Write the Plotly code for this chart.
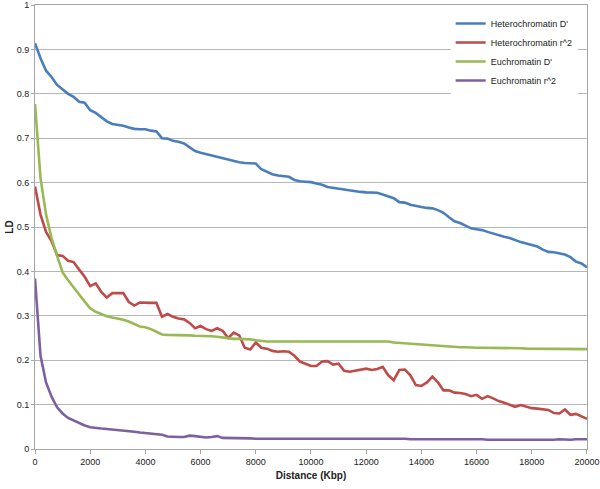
import plotly.graph_objects as go

distance = list(range(0, 20001, 200))

het_d = [0.914, 0.880, 0.852, 0.838, 0.820, 0.810, 0.800, 0.793, 0.782, 0.780,
         0.763, 0.757, 0.748, 0.738, 0.732, 0.730, 0.728, 0.724, 0.721, 0.720,
         0.720, 0.717, 0.715, 0.700, 0.699, 0.694, 0.692, 0.688, 0.680, 0.671,
         0.667, 0.664, 0.661, 0.658, 0.654, 0.651, 0.649, 0.646, 0.644, 0.643,
         0.643, 0.630, 0.624, 0.619, 0.616, 0.614, 0.613, 0.606, 0.603, 0.602,
         0.601, 0.598, 0.595, 0.590, 0.588, 0.587, 0.584, 0.582, 0.580, 0.579,
         0.578, 0.578, 0.577, 0.573, 0.569, 0.565, 0.556, 0.555, 0.550, 0.547,
         0.545, 0.543, 0.542, 0.538, 0.532, 0.522, 0.513, 0.509, 0.503, 0.497,
         0.495, 0.493, 0.489, 0.485, 0.481, 0.478, 0.475, 0.470, 0.466, 0.463,
         0.460, 0.456, 0.449, 0.444, 0.443, 0.441, 0.438, 0.432, 0.422, 0.418,
         0.409]

het_r2 = [0.591, 0.528, 0.489, 0.468, 0.437, 0.435, 0.424, 0.421, 0.404, 0.388,
          0.367, 0.373, 0.354, 0.341, 0.351, 0.351, 0.351, 0.331, 0.323, 0.330,
          0.329, 0.329, 0.329, 0.298, 0.304, 0.298, 0.294, 0.292, 0.284, 0.272,
          0.277, 0.270, 0.266, 0.272, 0.266, 0.250, 0.262, 0.256, 0.228, 0.224,
          0.240, 0.228, 0.226, 0.221, 0.219, 0.220, 0.219, 0.210, 0.197, 0.192,
          0.187, 0.187, 0.197, 0.198, 0.190, 0.192, 0.176, 0.174, 0.176, 0.179,
          0.181, 0.178, 0.180, 0.185, 0.166, 0.155, 0.178, 0.179, 0.166, 0.144,
          0.142, 0.150, 0.163, 0.150, 0.132, 0.132, 0.127, 0.126, 0.124, 0.119,
          0.122, 0.113, 0.119, 0.114, 0.108, 0.104, 0.100, 0.095, 0.099, 0.096,
          0.092, 0.091, 0.090, 0.088, 0.081, 0.080, 0.089, 0.077, 0.079, 0.074,
          0.068]

eu_d = [0.777, 0.610, 0.528, 0.475, 0.435, 0.398, 0.380, 0.365, 0.348, 0.332,
        0.317, 0.309, 0.304, 0.299, 0.296, 0.294, 0.291, 0.287, 0.281, 0.276,
        0.274, 0.270, 0.264, 0.258, 0.257, 0.257, 0.257, 0.256, 0.256, 0.255,
        0.255, 0.255, 0.254, 0.253, 0.251, 0.249, 0.248, 0.248, 0.248, 0.247,
        0.245, 0.243, 0.242, 0.242, 0.242, 0.242, 0.242, 0.242, 0.242, 0.242,
        0.242, 0.242, 0.242, 0.242, 0.242, 0.242, 0.242, 0.242, 0.242, 0.242,
        0.242, 0.242, 0.242, 0.242, 0.242, 0.240, 0.239, 0.238, 0.237, 0.236,
        0.235, 0.234, 0.233, 0.232, 0.231, 0.230, 0.229, 0.229, 0.229, 0.228,
        0.228, 0.228, 0.228, 0.228, 0.227, 0.227, 0.227, 0.227, 0.227, 0.226,
        0.226, 0.226, 0.226, 0.226, 0.226, 0.225, 0.225, 0.225, 0.225, 0.225,
        0.225]

eu_r2 = [0.384, 0.210, 0.150, 0.118, 0.094, 0.080, 0.070, 0.064, 0.058, 0.053,
         0.049, 0.047, 0.046, 0.045, 0.044, 0.043, 0.042, 0.041, 0.039, 0.037,
         0.036, 0.035, 0.033, 0.032, 0.028, 0.027, 0.027, 0.027, 0.030, 0.029,
         0.028, 0.026, 0.027, 0.029, 0.025, 0.025, 0.024, 0.024, 0.024, 0.024,
         0.023, 0.023, 0.023, 0.023, 0.023, 0.023, 0.023, 0.023, 0.023, 0.023,
         0.024, 0.024, 0.024, 0.024, 0.024, 0.024, 0.023, 0.023, 0.023, 0.023,
         0.023, 0.023, 0.023, 0.023, 0.023, 0.023, 0.023, 0.023, 0.022, 0.022,
         0.022, 0.022, 0.023, 0.022, 0.022, 0.022, 0.022, 0.022, 0.022, 0.022,
         0.022, 0.022, 0.021, 0.021, 0.021, 0.021, 0.020, 0.020, 0.020, 0.021,
         0.021, 0.021, 0.021, 0.021, 0.021, 0.022, 0.021, 0.021, 0.022, 0.022,
         0.022]

series_names = ["Heterochromatin D'", "Heterochromatin r^2", "Euchromatin D'", "Euchromatin r^2"]
series_values = [het_d, het_r2, eu_d, eu_r2]
colors = ["#4A7EBB", "#BE4B48", "#98B954", "#7D60A0"]

x_ticks = list(range(0, 20001, 2000))
y_ticks = [0, 0.1, 0.2, 0.3, 0.4, 0.5, 0.6, 0.7, 0.8, 0.9, 1]
y_labels = ["0", "0.1", "0.2", "0.3", "0.4", "0.5", "0.6", "0.7", "0.8", "0.9", "1"]

fig = go.Figure()
for name, vals, col in zip(series_names, series_values, colors):
    fig.add_trace(go.Scatter(x=distance, y=vals, mode="lines", name=name,
                             line=dict(color=col, width=2.6)))

font = "Liberation Sans, Arial, sans-serif"
fig.update_layout(
    width=600, height=489,
    margin=dict(l=35, r=13, t=5, b=40),
    paper_bgcolor="white", plot_bgcolor="white",
    font=dict(family=font, size=9, color="#222222"),
    showlegend=True,
    legend=dict(x=0.753, y=0.991, xanchor="left", yanchor="top",
                bgcolor="white", font=dict(size=9, color="#222222"),
                borderwidth=0, tracegroupgap=0),
    xaxis=dict(range=[0, 20000.5], tickvals=x_ticks, ticktext=[str(v) for v in x_ticks],
               automargin=False, ticklabeloverflow="allow",
               showgrid=False, zeroline=False, showline=True, linecolor="#A6A6A6",
               linewidth=1, mirror=True, ticks="outside", ticklen=4, tickcolor="#A6A6A6",
               tickfont=dict(size=9),
               title=dict(text="<b>Distance (Kbp)</b>", font=dict(size=10), standoff=6)),
    yaxis=dict(range=[0, 1], tickvals=y_ticks, ticktext=y_labels,
               automargin=False,
               showgrid=True, gridcolor="#B7B7B7", gridwidth=1, zeroline=False,
               showline=True, linecolor="#A6A6A6", linewidth=1, mirror=True,
               ticks="outside", ticklen=3, tickcolor="#A6A6A6",
               tickfont=dict(size=9),
               title=dict(text="<b>LD</b>", font=dict(size=10), standoff=1)),
)

fig.write_html("out.html", config={"displayModeBar": False},
               post_script="document.body.style.margin='0';")
